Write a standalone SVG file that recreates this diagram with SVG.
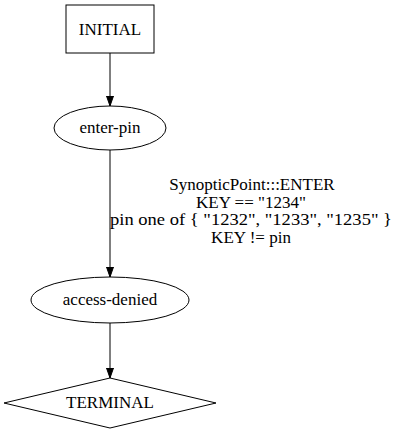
<svg xmlns="http://www.w3.org/2000/svg" width="400" height="432" viewBox="0 0 400 432">
<style>
.s{fill:none;stroke:#000;stroke-width:1}
.t{font-size:17px;fill:#000;text-anchor:middle}
</style>
<defs>
<marker id="a" markerWidth="10" markerHeight="10" refX="10" refY="3.5" orient="auto" markerUnits="userSpaceOnUse" viewBox="0 0 10 7">
<polygon points="0,0 10,3.5 0,7" fill="#000" stroke="#000"/>
</marker>
</defs>
<rect width="400" height="432" fill="#fff"/>
<g id="edges">
<line class="s" x1="110" y1="53" x2="110" y2="106" marker-end="url(#a)"/>
<line class="s" x1="110" y1="150" x2="110" y2="277" marker-end="url(#a)"/>
<line class="s" x1="110" y1="323" x2="110" y2="378" marker-end="url(#a)"/>
<g id="edge-label" font-family="Liberation Serif, Times New Roman, serif">
<text class="t" x="252" y="190">SynopticPoint:::ENTER</text>
<text class="t" x="251" y="207.5">KEY == "1234"</text>
<text class="t" x="251" y="225" textLength="282" lengthAdjust="spacingAndGlyphs">pin one of { "1232", "1233", "1235" }</text>
<text class="t" x="251" y="242.5">KEY != pin</text>
</g>
</g>
<g id="INITIAL" font-family="Liberation Serif, Times New Roman, serif">
<rect class="s" x="66" y="5" width="88" height="48"/>
<text class="t" x="110" y="35">INITIAL</text>
</g>
<g id="enter-pin" font-family="Liberation Serif, Times New Roman, serif">
<ellipse class="s" cx="110" cy="128" rx="56" ry="22"/>
<text class="t" x="110" y="133">enter-pin</text>
</g>
<g id="access-denied" font-family="Liberation Serif, Times New Roman, serif">
<ellipse class="s" cx="110" cy="300" rx="79" ry="23"/>
<text class="t" x="110" y="305">access-denied</text>
</g>
<g id="TERMINAL" font-family="Liberation Serif, Times New Roman, serif">
<polygon class="s" points="110,378 216,403 110,428 4,403"/>
<text class="t" x="110" y="408">TERMINAL</text>
</g>
</svg>
